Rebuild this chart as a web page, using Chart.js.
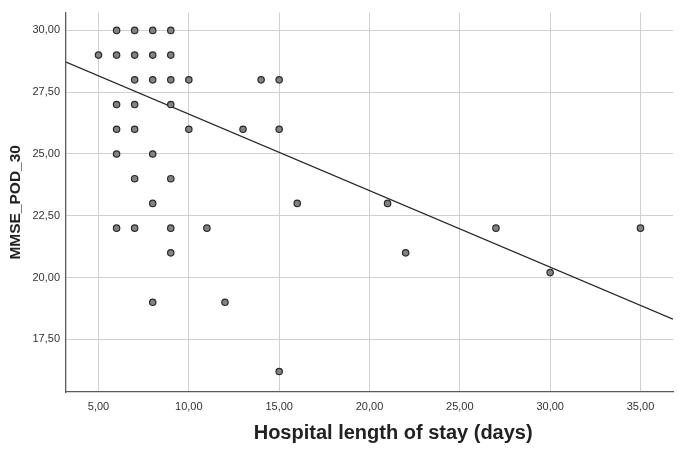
<!DOCTYPE html>
<html>
<head>
<meta charset="utf-8">
<title>MMSE_POD_30 vs Hospital length of stay</title>
<script src="https://cdn.jsdelivr.net/npm/chart.js@4.4.1/dist/chart.umd.min.js"></script>
<style>
    html, body { margin: 0; padding: 0; background: #ffffff; }
    #wrap { width: 680px; height: 449px; position: relative; }
</style>
</head>
<body>
<div id="wrap"><canvas id="chart"></canvas></div>
<script>
    //--------------------------- data ---------------------------//
    var stayDays = [6, 7, 8, 9,
        5, 6, 7, 8, 9,
        7, 8, 9, 10, 14, 15,
        6, 7, 9,
        6, 7, 10, 13, 15,
        6, 8,
        7, 9,
        8, 16, 21,
        6, 7, 9, 11, 27, 35,
        9, 22,
        30,
        8, 12,
        15]
    var mmseScores = [30, 30, 30, 30,
        29, 29, 29, 29, 29,
        28, 28, 28, 28, 28, 28,
        27, 27, 27,
        26, 26, 26, 26, 26,
        25, 25,
        24, 24,
        23, 23, 23,
        22, 22, 22, 22, 22, 22,
        21, 21,
        20.2,
        19, 19,
        16.2]
    // fit line end points
    var fitX = [3.2, 36.8]
    var fitY = [28.72, 18.32]

    var xTicks = [5, 10, 15, 20, 25, 30, 35]
    var yTicks = [17.5, 20, 22.5, 25, 27.5, 30]

    var xTitle = 'Hospital length of stay (days)'
    var yTitle = 'MMSE_POD_30'

    //--------------------------- helpers ---------------------------//
    function pairs(xs, ys) {
        var out = []
        for (var i = 0; i < xs.length; i++) {
            out.push({ x: xs[i], y: ys[i] })
        }
        return out
    }
    function commaLabel(v) {
        return Number(v).toFixed(2).replace('.', ',')
    }

    // the x title sits a bit right of the plot centre in the original
    var xTitlePlugin = {
        id: 'xTitle',
        afterDraw: function (chart) {
            var area = chart.chartArea
            var ctx = chart.ctx
            ctx.save()
            ctx.font = 'bold 20px "Liberation Sans", Arial, sans-serif'
            ctx.fillStyle = '#222222'
            ctx.textAlign = 'center'
            ctx.textBaseline = 'middle'
            ctx.fillText(xTitle, area.left + (area.right - area.left) * 0.539, 433)
            ctx.restore()
        }
    }

    //--------------------------- chart ---------------------------//
    var gridColor = '#d0d0d0'
    var axisColor = '#5a5a5a'
    var tickFont = { family: '"Liberation Sans", Arial, sans-serif', size: 11 }

    new Chart(document.getElementById('chart'), {
        type: 'scatter',
        data: {
            datasets: [{
                type: 'scatter',
                data: pairs(stayDays, mmseScores),
                pointRadius: 3.2,
                pointBackgroundColor: '#828282',
                pointBorderColor: '#2a2a2a',
                pointBorderWidth: 1.2,
                order: 0
            }, {
                type: 'line',
                data: pairs(fitX, fitY),
                borderColor: '#262626',
                borderWidth: 1.3,
                pointRadius: 0,
                fill: false,
                order: 1
            }]
        },
        options: {
            responsive: true,
            maintainAspectRatio: false,
            animation: false,
            devicePixelRatio: 1,
            layout: { padding: { left: 0, right: 7, top: 12, bottom: 0 } },
            plugins: {
                legend: { display: false },
                tooltip: { enabled: false }
            },
            scales: {
                x: {
                    type: 'linear',
                    min: 3.2,
                    max: 36.8,
                    afterBuildTicks: function (scale) {
                        scale.ticks = xTicks.map(function (v) { return { value: v } })
                    },
                    afterFit: function (scale) { scale.height = 57 },
                    grid: { color: gridColor, lineWidth: 1, drawTicks: false },
                    border: { display: true, color: axisColor, width: 1.3 },
                    ticks: {
                        padding: 8,
                        color: '#333333',
                        font: tickFont,
                        maxRotation: 0,
                        callback: function (v) { return commaLabel(v) }
                    },
                    title: { display: false }
                },
                y: {
                    type: 'linear',
                    min: 15.37,
                    max: 30.72,
                    afterBuildTicks: function (scale) {
                        scale.ticks = yTicks.map(function (v) { return { value: v } })
                    },
                    afterFit: function (scale) { scale.width = 66 },
                    grid: { color: gridColor, lineWidth: 1, drawTicks: false },
                    border: { display: true, color: axisColor, width: 1.3 },
                    ticks: {
                        padding: 6,
                        color: '#333333',
                        font: tickFont,
                        callback: function (v) { return commaLabel(v) }
                    },
                    title: {
                        display: true,
                        text: yTitle,
                        color: '#222222',
                        font: { family: '"Liberation Sans", Arial, sans-serif', size: 15.5, weight: 'bold' },
                        padding: { top: 6, bottom: 0 }
                    }
                }
            }
        },
        plugins: [xTitlePlugin]
    })
</script>
</body>
</html>
